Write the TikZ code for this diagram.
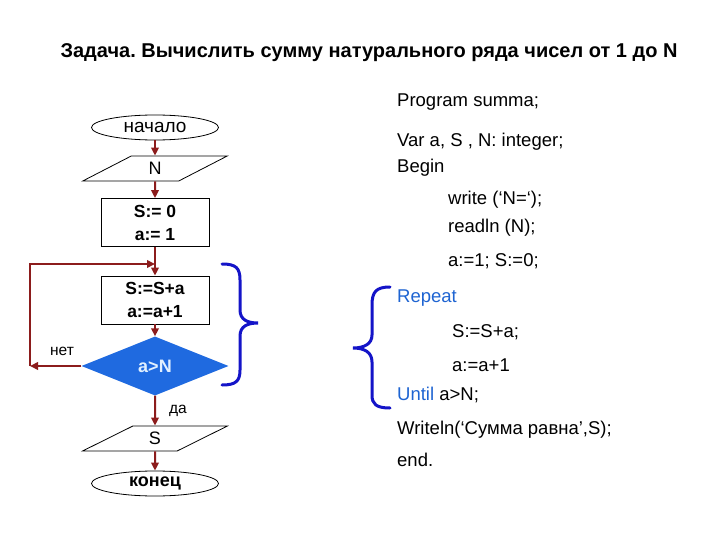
\documentclass[tikz,border=0pt]{standalone}
\usepackage{fontspec}
\setmainfont{Liberation Sans}
\usetikzlibrary{shapes.geometric,arrows.meta}
\definecolor{arrowred}{RGB}{140,28,28}
\definecolor{dblue}{RGB}{31,106,224}
\definecolor{brblue}{RGB}{20,20,200}
\definecolor{kwblue}{RGB}{30,100,210}
\frenchspacing
\tikzset{
  term/.style={ellipse,draw,line width=0.8,minimum width=127,minimum height=25,inner sep=0,font=\fontsize{19}{19}\selectfont},
  io/.style={trapezium,trapezium left angle=43,trapezium right angle=137,trapezium stretches=true,draw,line width=0.8,minimum width=145,minimum height=25,inner sep=0,font=\fontsize{18}{18}\selectfont},
  proc/.style={rectangle,draw,line width=0.8,minimum width=108,minimum height=48,inner sep=0,align=center,font=\bfseries\fontsize{17.5}{23}\selectfont},
  cond/.style={diamond,fill=dblue,minimum width=147,minimum height=59,inner sep=0,text={rgb,255:red,225;green,240;blue,255},font=\bfseries\fontsize{18}{18}\selectfont},
  flow/.style={draw=arrowred,line width=2,-{Triangle[length=8,width=7.5]}},
  flowline/.style={draw=arrowred,line width=2},
  brace/.style={draw=brblue,line width=3,line cap=round},
  code/.style={anchor=west,inner sep=0,font=\fontsize{18.5}{18.5}\selectfont},
  lbl/.style={inner sep=0,font=\fontsize{15.5}{15.5}\selectfont},
}
\begin{document}
\begin{tikzpicture}[x=1pt,y=-1pt]
\useasboundingbox[fill=white] (0,0) rectangle (720,540);
\node[inner sep=0,font=\bfseries\fontsize{20}{20}\selectfont] (title) at (369,53) {Задача. Вычислить сумму натурального ряда чисел от 1 до N};
% flowchart
\node[term] (start) at (155,127.5) {начало};
\node[io] (inN) at (155,168.5) {N};
\node[proc] (init) at (155,222.5) {S:= 0\\a:= 1};
\node[proc] (body) at (155,300) {S:=S+a\\a:=a+1};
\node[cond] (test) at (155,366) {a>N};
\node[io] (outS) at (155,438.5) {S};
\node[term] (stop) at (155,483.5) {\bfseries\fontsize{18}{18}\selectfont конец};
\coordinate (L1) at (30,366);
\coordinate (L2) at (30,264);
\coordinate (J) at (155,264);
\draw[flow] (start) -- (inN);
\draw[flow] (inN) -- (init);
\draw[flow] (init) -- (body);
\draw[flow] (body) -- (test);
\draw[flow] (test) -- (outS);
\draw[flow] (outS) -- (stop);
\draw[flow] (test.west) -- (L1);
\draw[flowline,-{Triangle[length=8,width=7.5]}] (L1) -- (L2) -- (J);
\node[lbl] (no) at (62,351) {нет};
\node[lbl] (yes) at (178,411) {да};
% braces
\draw[brace] (222,264) .. controls (236,264) and (240,268) .. (240,280) -- (240,310)
  .. controls (240,320) and (248,323) .. (258,323)
  .. controls (248,323) and (240,326) .. (240,336) -- (240,370)
  .. controls (240,381) and (236,385) .. (222,385);
\draw[brace] (390,287) .. controls (376,287) and (372,292) .. (372,305) -- (372,335)
  .. controls (372,344) and (364,348) .. (353,348)
  .. controls (364,348) and (372,352) .. (372,362) -- (372,395)
  .. controls (372,404) and (376,408) .. (390,408);
% code
\node[code] (c1) at (397,102) {Program summa;};
\node[code] (c2) at (397,142) {Var a, S , N: integer;};
\node[code] (c3) at (397,168) {Begin};
\node[code] (c4) at (448,200) {write (‘N=‘);};
\node[code] (c5) at (448,228) {readln (N);};
\node[code] (c6) at (448,261) {a:=1; S:=0;};
\node[code,text=kwblue] (c7) at (397,298) {Repeat};
\node[code] (c8) at (452,332) {S:=S+a;};
\node[code] (c9) at (452,365) {a:=a+1};
\node[code] (c10) at (397,395) {\textcolor{kwblue}{Until} a>N;};
\node[code] (c11) at (397,430) {Writeln(‘Сумма равна’,S);};
\node[code] (c12) at (397,460) {end.};
\end{tikzpicture}
\end{document}
